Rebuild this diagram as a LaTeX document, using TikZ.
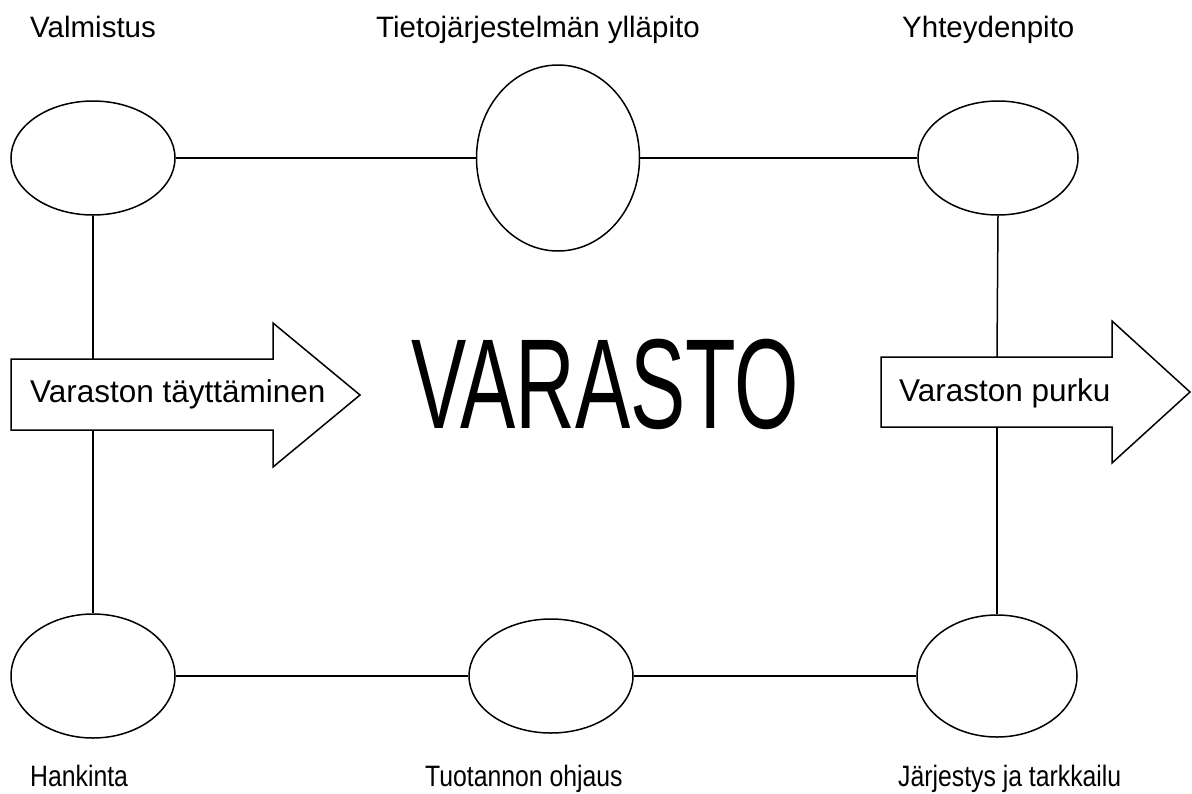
\documentclass[tikz,border=0pt]{standalone}
\usepackage{fontspec}
\setmainfont{Liberation Sans}
\usetikzlibrary{shapes.geometric}
\tikzset{
  oval/.style={draw, ellipse, line width=1.5pt, inner sep=0pt},
  conn/.style={line width=1.5pt},
  bigarrow/.style={draw, line width=1.5pt, line join=miter, fill=white},
  outerlabel/.style={anchor=base west, inner sep=0pt, font=\fontsize{29.5}{30}\selectfont},
  arrowlabel/.style={anchor=base west, inner sep=0pt, font=\fontsize{31.5}{32}\selectfont},
}
\newcommand{\narrow}[1]{\scalebox{0.84}[1]{#1}}
\begin{document}
\begin{tikzpicture}[x=1pt, y=-1pt]
\useasboundingbox (0,0) rectangle (1192,793);
% ellipses
\node[oval, minimum width=164pt, minimum height=114pt] (tl) at (93,158) {};
\node[oval, minimum width=163pt, minimum height=186pt] (tm) at (558,158) {};
\node[oval, minimum width=160pt, minimum height=114pt] (tr) at (998,158) {};
\node[oval, minimum width=164pt, minimum height=124pt] (bl) at (93,676) {};
\node[oval, minimum width=164pt, minimum height=114pt] (bm) at (551,676) {};
\node[oval, minimum width=160pt, minimum height=122pt] (br) at (997,676) {};
% arrow attachment points
\coordinate (la-top) at (93,359);
\coordinate (la-bot) at (93,430);
\coordinate (ra-top) at (997,357);
\coordinate (ra-bot) at (997,427);
% connectors
\draw[conn] (tl.east) -- (tm.west);
\draw[conn] (tm.east) -- (tr.west);
\draw[conn] (bl.east) -- (bm.west);
\draw[conn] (bm.east) -- (br.west);
\draw[conn] (tl.south) -- (la-top);
\draw[conn] (la-bot) -- (bl.north);
\draw[conn] (tr.south) -- (ra-top);
\draw[conn] (ra-bot) -- (br.north);
% arrows
\draw[bigarrow] (11,359) -- (273,359) -- (273,323) -- (360,395) -- (273,467) -- (273,430) -- (11,430) -- cycle;
\draw[bigarrow] (881,357) -- (1112,357) -- (1112,321) -- (1190,392) -- (1112,463) -- (1112,427) -- (881,427) -- cycle;
\node[arrowlabel] (lal) at (30,402) {Varaston täyttäminen};
\node[arrowlabel] (ral) at (899,401) {Varaston purku};
% title
\node[anchor=base west, inner sep=0pt] (title) at (411,428) {\scalebox{0.647}[1]{\fontsize{128}{128}\selectfont VARASTO}};
% labels
\node[outerlabel] (l1) at (30,37) {Valmistus};
\node[outerlabel] (l2) at (376,37) {Tietojärjestelmän ylläpito};
\node[outerlabel] (l3) at (902,37) {Yhteydenpito};
\node[outerlabel] (l4) at (30,786) {\narrow{Hankinta}};
\node[outerlabel] (l5) at (425,786) {\narrow{Tuotannon ohjaus}};
\node[outerlabel] (l6) at (898,786) {\narrow{Järjestys ja tarkkailu}};
\end{tikzpicture}
\end{document}
